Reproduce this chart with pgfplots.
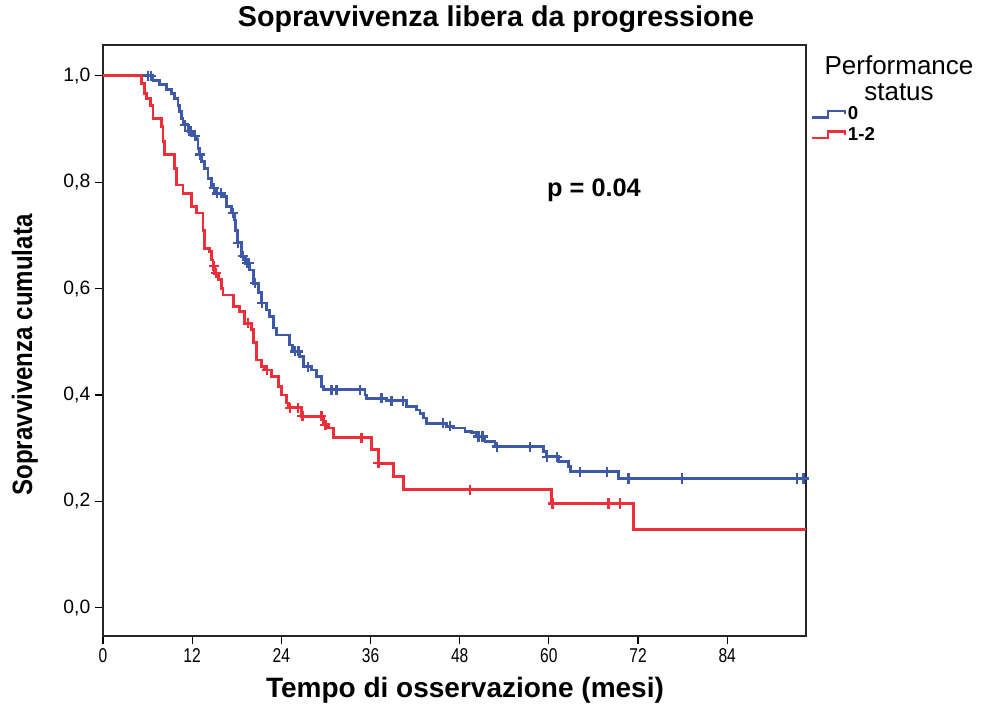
\documentclass[border=0pt]{standalone}
\usepackage{pgfplots}
\pgfplotsset{compat=1.18}
\usepackage{fontspec}
\setmainfont{Liberation Sans}
\newfontfamily\narrowfont[FakeStretch=0.78]{Liberation Sans}
\newfontfamily\narrowbold[FakeStretch=0.86]{Liberation Sans Bold}
\definecolor{psblue}{RGB}{62,88,170}
\definecolor{psred}{RGB}{238,46,56}
\begin{document}
\begin{tikzpicture}
\begin{axis}[
  at={(0,0)}, anchor=south west,
  scale only axis, width=527.25pt, height=443.25pt,
  xmin=0, xmax=94.6, ymin=-0.053, ymax=1.058,
  xtick={0,12,24,36,48,60,72,84},
  ytick={0,0.2,0.4,0.6,0.8,1.0},
  tick align=outside, tick pos=left,
  major tick length=6pt,
  axis line style={black!85, line width=0.9pt},
  every tick/.style={black, line width=0.9pt},
  x tick label style={font=\fontsize{15}{18}\narrowfont, /pgf/number format/assume math mode=true},
  y tick label style={font=\fontsize{14.5}{17}\selectfont, /pgf/number format/.cd, fixed, fixed zerofill, precision=1, use comma, assume math mode=true},
  legend style={at={(1.006,0.899)}, anchor=north west, draw=none, fill=none,
    font=\fontsize{14}{16}\selectfont, row sep=0.8pt, inner sep=0pt,
    nodes={inner sep=1.5pt}},
  legend cell align=left,
  legend image code/.code={\draw[#1, line width=1.6pt] (0pt,-2.3pt) -- (12.5pt,-2.3pt) -- (12.5pt,2.3pt) -- (25pt,2.3pt) -- (25pt,0pt);},
]
% PS 0
\addplot[const plot, psblue, line width=2.1pt] coordinates {
(0,1.0) (6.73,0.992) (7.64,0.983) (8.54,0.974) (9.21,0.967) (9.66,0.958) (10.10,0.945)
(10.33,0.933) (10.56,0.920) (10.77,0.908) (11.45,0.896) (12.12,0.887) (12.58,0.880)
(12.79,0.864) (13.02,0.852) (13.25,0.839) (13.70,0.826) (14.14,0.807) (14.60,0.789)
(15.18,0.779) (16.16,0.773) (16.62,0.755) (17.29,0.742) (17.74,0.729) (17.87,0.710)
(18.07,0.686) (18.64,0.661) (19.15,0.648) (19.76,0.635) (20.20,0.610) (20.88,0.592)
(21.33,0.573) (22.01,0.560) (22.45,0.548) (22.90,0.526) (23.35,0.513) (25.14,0.494)
(25.48,0.482) (26.49,0.472) (26.94,0.453) (28.07,0.447) (28.74,0.435) (29.41,0.416)
(29.63,0.410) (35.25,0.400) (35.47,0.394) (38.17,0.389) (40.86,0.379) (42.21,0.372)
(42.65,0.366) (43.10,0.357) (43.56,0.347) (46.25,0.341) (47.14,0.338) (48.71,0.332)
(49.62,0.329) (50.29,0.322) (51.41,0.313) (52.75,0.303) (59.26,0.294) (59.72,0.284)
(61.28,0.275) (62.63,0.266) (62.86,0.256) (69.36,0.243) (94.6,0.243)
};
\addlegendentry{\textbf{0}}
% PS 1-2
\addplot[const plot, psred, line width=2.1pt] coordinates {
(0,1.0) (5.17,0.986) (5.62,0.967) (5.85,0.958) (6.38,0.945) (6.73,0.920) (7.87,0.905)
(8.08,0.877) (8.31,0.852) (9.66,0.826) (9.89,0.795) (10.77,0.779) (11.91,0.755)
(12.58,0.742) (13.47,0.710) (13.63,0.676) (14.37,0.670) (14.60,0.654) (14.81,0.642)
(15.04,0.629) (15.49,0.617) (15.95,0.601) (16.16,0.588) (17.51,0.566) (18.41,0.557)
(19.08,0.535) (19.99,0.523) (20.20,0.498) (20.66,0.466) (21.33,0.453) (21.78,0.447)
(22.68,0.435) (23.57,0.416) (24.03,0.400) (24.70,0.385) (25.01,0.376) (26.72,0.360)
(29.63,0.344) (30.30,0.338) (30.98,0.320) (36.15,0.297) (37.04,0.272) (39.06,0.247)
(40.40,0.222) (60.39,0.196) (71.38,0.147) (94.6,0.147)
};
\addlegendentry{\textbf{1-2}}
% censored PS 0
\addplot[only marks, mark=+, mark size=3.8pt, psblue, line width=1.7pt, forget plot] coordinates {
(6.09,1.0) (6.49,1.0) (11.07,0.908) (11.61,0.896) (11.88,0.896) (12.35,0.887) (13.09,0.852)
(14.91,0.789) (15.38,0.779) (15.85,0.779) (17.47,0.742) (18.21,0.686) (18.88,0.661)
(19.35,0.648) (19.62,0.648) (20.43,0.610) (21.44,0.573) (25.82,0.482) (26.29,0.482)
(27.57,0.453) (30.76,0.410) (31.43,0.410) (34.57,0.410) (37.49,0.394) (38.84,0.389)
(40.40,0.389) (45.79,0.347) (46.69,0.341) (50.53,0.322) (51.07,0.322) (52.98,0.303)
(57.47,0.303) (59.72,0.284) (61.06,0.284) (64.20,0.256) (67.80,0.256) (70.71,0.243)
(77.90,0.243) (93.39,0.243) (94.28,0.243)
};
% censored PS 1-2
\addplot[only marks, mark=+, mark size=3.8pt, psred, line width=1.7pt, forget plot] coordinates {
(14.88,0.642) (15.18,0.629) (19.53,0.535) (22.11,0.447) (25.21,0.376) (26.22,0.376)
(26.83,0.360) (29.39,0.360) (29.93,0.344) (34.80,0.320) (37.07,0.272) (49.39,0.222)
(60.50,0.196) (68.01,0.196) (69.59,0.196)
};
\end{axis}
\begin{scope}[x=0.75pt, y=-0.75pt, shift={(-77.25pt,477pt)}]
\path (0,0) rectangle (982,708);
\node[font=\bfseries\fontsize{21.5}{24}\selectfont] at (496,19) {Sopravvivenza libera da progressione};
\node[font=\bfseries\fontsize{21}{24}\selectfont] at (465,690) {Tempo di osservazione (mesi)};
\node[font=\fontsize{21}{24}\narrowbold, rotate=90] at (25,355) {Sopravvivenza cumulata};
\node[font=\bfseries\fontsize{19}{22}\selectfont] at (594,190) {p = 0.04};
\node[font=\fontsize{19.5}{22}\selectfont] at (899,65) {Performance};
\node[font=\fontsize{19.5}{22}\selectfont] at (899,92) {status};
\end{scope}
\end{tikzpicture}
\end{document}
